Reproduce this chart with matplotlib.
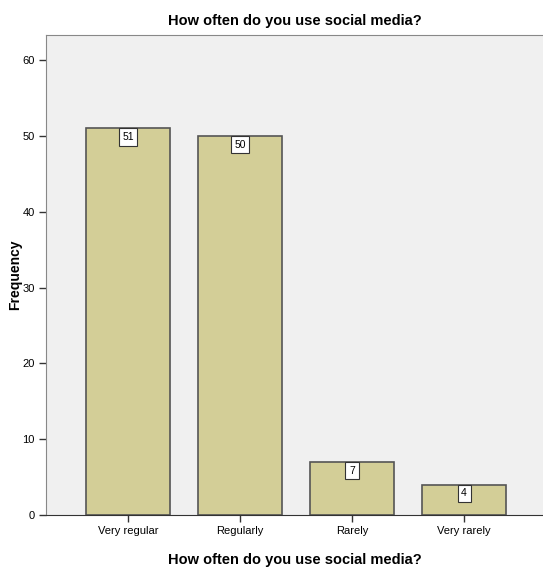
import matplotlib.pyplot as plt

plt.rcParams['font.family'] = ['Liberation Sans', 'DejaVu Sans']

categories = ['Very regular', 'Regularly', 'Rarely', 'Very rarely']
frequency = [51, 50, 7, 4]

fig = plt.figure(figsize=(5.43, 5.69), dpi=100)
ax = fig.add_axes([0.0847, 0.0949, 0.9153, 0.8436])
ax.set_facecolor('#F0F0F0')

x = range(len(categories))
bars = ax.bar(x, frequency, width=0.75, color='#D3CE97', edgecolor='#555555', linewidth=1.2)

for b, v in zip(bars, frequency):
    ax.text(b.get_x() + b.get_width() / 2, v - 0.5, str(v), ha='center', va='top',
            fontsize=7.5,
            bbox=dict(boxstyle='square,pad=0.35', fc='white', ec='#333333', lw=0.8))

ax.set_xlim(-0.732, 3.705)
ax.set_ylim(0, 63.3)
ax.set_yticks([0, 10, 20, 30, 40, 50, 60])
ax.set_xticks(list(x))
ax.set_xticklabels(categories)
ax.tick_params(axis='both', labelsize=8, length=5, width=1, color='#333333', pad=3)

ax.spines['right'].set_visible(False)
ax.spines['top'].set_color('#888888')
ax.spines['left'].set_color('#888888')
ax.spines['bottom'].set_color('#333333')

ax.set_title('How often do you use social media?', fontsize=10.5, fontweight='bold', pad=7)
ax.set_xlabel('How often do you use social media?', fontsize=10.5, fontweight='bold', labelpad=12)
ax.set_ylabel('Frequency', fontsize=10, fontweight='bold')
ax.yaxis.set_label_coords(-0.048, 0.5)

plt.savefig('out.png', dpi=100)
